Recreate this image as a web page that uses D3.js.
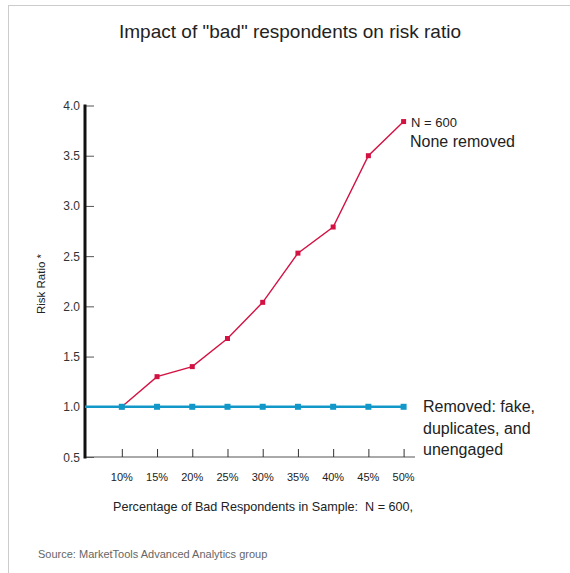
<!DOCTYPE html>
<html><head><meta charset="utf-8">
<script src="https://cdn.jsdelivr.net/npm/d3@7"></script>
<style>
body{margin:0;background:#fff;}
svg{display:block;}
text{font-family:"Liberation Sans",Arial,sans-serif;white-space:pre;}
</style></head>
<body>
<svg id="c" width="570" height="573"></svg>
<script>
const categories = [10, 15, 20, 25, 30, 35, 40, 45, 50];
const tickLabels = ["10%","15%","20%","25%","30%","35%","40%","45%","50%"];
const noneRemoved = [1.0, 1.30, 1.40, 1.68, 2.04, 2.53, 2.79, 3.50, 3.84];
const removed = [1.0, 1.0, 1.0, 1.0, 1.0, 1.0, 1.0, 1.0, 1.0];
const yTicks = [0.5, 1.0, 1.5, 2.0, 2.5, 3.0, 3.5, 4.0];

const svg = d3.select("#c");
// frame
svg.append("line").attr("x1",8).attr("x2",570).attr("y1",5.5).attr("y2",5.5).attr("stroke","#ccc").attr("stroke-width",1);
svg.append("line").attr("x1",8.5).attr("x2",8.5).attr("y1",5).attr("y2",573).attr("stroke","#ccc").attr("stroke-width",1);

const x = d3.scaleLinear().domain([5, 50]).range([86.6, 403.6]);
const y = d3.scaleLinear().domain([0.5, 4.0]).range([457, 105.5]);
const x0 = 85, xEnd = 415;

svg.append("text").attr("x", 290).attr("y", 38).attr("text-anchor","middle")
  .attr("font-size", 19).attr("fill","#222").text('Impact of "bad" respondents on risk ratio');

// x axis
const gx = svg.append("g").attr("transform", `translate(0,${y(0.5)})`);
gx.append("line").attr("x1", x0).attr("x2", xEnd).attr("stroke","#555").attr("stroke-width",1);
const xa = d3.axisTop(x).tickValues(categories).tickSize(8).tickFormat("");
const gxt = gx.append("g").call(xa);
gxt.select(".domain").remove();
gxt.selectAll(".tick line").attr("stroke","#333");
svg.append("g").selectAll("text").data(categories).join("text")
  .attr("x", d => x(d)).attr("y", 481).attr("text-anchor","middle")
  .attr("font-size", 11).attr("fill","#222")
  .text((d,i) => tickLabels[i]);

// y axis
const gy = svg.append("g").attr("transform", `translate(${x0},0)`);
const ya = d3.axisRight(y).tickValues(yTicks).tickSize(9).tickFormat("");
const gyt = gy.call(ya);
gyt.select(".domain").remove();
gyt.selectAll(".tick line").attr("stroke","#555");
gy.append("line").attr("y1", y(4.0) - 1).attr("y2", y(0.5) + 1.5).attr("stroke","#111").attr("stroke-width",3);
svg.append("g").selectAll("text").data(yTicks).join("text")
  .attr("x", 80).attr("y", d => y(d) + 4.5).attr("text-anchor","end")
  .attr("font-family","'Open Sans',sans-serif").attr("font-size", 12).attr("fill","#333")
  .text(d => d3.format(".1f")(d));

// axis titles
svg.append("text").attr("transform","translate(45,284) rotate(-90)").attr("text-anchor","middle")
  .attr("font-size", 11.5).attr("fill","#222").text("Risk Ratio *");
svg.append("text").attr("x", 263).attr("y", 511).attr("text-anchor","middle")
  .attr("font-size", 12.6).attr("fill","#222").text("Percentage of Bad Respondents in Sample:  N = 600,");

// red series
const red = "#d31243", blue = "#1298c8";
const line = d3.line().x((d,i) => x(categories[i])).y(d => y(d));
svg.append("path").datum(noneRemoved).attr("d", line).attr("fill","none").attr("stroke", red).attr("stroke-width",1.4);
svg.append("g").selectAll("rect").data(noneRemoved).join("rect")
  .attr("x", (d,i) => x(categories[i]) - 2.5).attr("y", d => y(d) - 2.5)
  .attr("width",5).attr("height",5).attr("fill", red);

// blue series
svg.append("line").attr("x1", x0).attr("x2", x(categories[0])).attr("y1", y(removed[0])).attr("y2", y(removed[0]))
  .attr("stroke", blue).attr("stroke-width",2.5);
svg.append("path").datum(removed).attr("d", line).attr("fill","none").attr("stroke", blue).attr("stroke-width",2.5);
svg.append("g").selectAll("rect").data(removed).join("rect")
  .attr("x", (d,i) => x(categories[i]) - 3).attr("y", d => y(d) - 3)
  .attr("width",6).attr("height",6).attr("fill", blue);

// labels
svg.append("text").attr("x", 411).attr("y", 127).attr("font-size", 13).attr("fill","#222").text("N = 600");
svg.append("text").attr("x", 410).attr("y", 147).attr("font-size", 16).attr("fill","#222").text("None removed");
const rl = ["Removed: fake,", "duplicates, and", "unengaged"];
svg.append("g").selectAll("text").data(rl).join("text")
  .attr("x", 423).attr("y", (d,i) => 412 + i*21.7).attr("font-size", 16).attr("fill","#222").text(d => d);

svg.append("text").attr("x", 38).attr("y", 558).attr("font-size", 11).attr("fill","#666")
  .text("Source: MarketTools Advanced Analytics group");
</script>
</body></html>
